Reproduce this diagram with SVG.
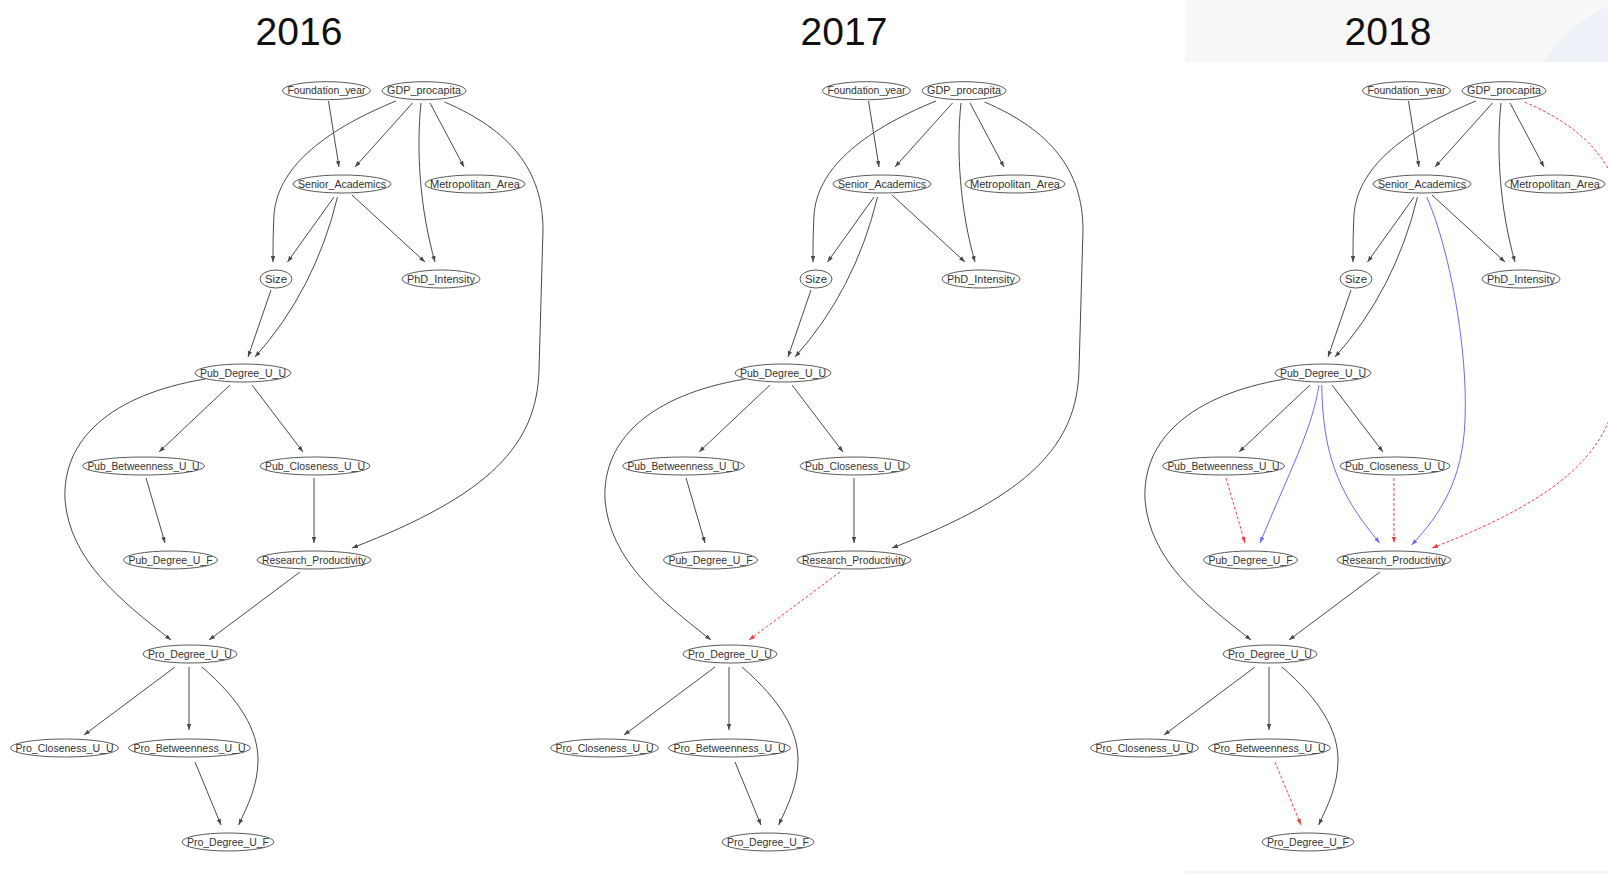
<svg xmlns="http://www.w3.org/2000/svg" xmlns:xlink="http://www.w3.org/1999/xlink" width="1608" height="874" viewBox="0 0 1608 874">
  <style>
    .title { font-family: "Liberation Sans", Arial, sans-serif; font-size: 39px; fill: #111; text-anchor: middle; }
    .node ellipse { fill: #fff; stroke: #5a5a5a; stroke-width: 1; }
    .node text { font-family: "Liberation Sans", Arial, sans-serif; font-size: 10px; fill: #333; text-anchor: middle; }
    .k { fill: none; stroke: #4a4a4a; stroke-width: 1; marker-end: url(#ak); }
    .r { fill: none; stroke: #f04040; stroke-width: 1; stroke-dasharray: 3 2; marker-end: url(#ar); }
    .b { fill: none; stroke: #6a6aff; stroke-width: 1; marker-end: url(#ab); }
  </style>
  <defs>
    <marker id="ak" viewBox="0 0 6 6" refX="6" refY="3" markerWidth="6" markerHeight="6" markerUnits="userSpaceOnUse" orient="auto">
      <path d="M0,0.8 L6,3 L0,5.2 Z" fill="#4a4a4a"/>
    </marker>
    <marker id="ar" viewBox="0 0 6 6" refX="6" refY="3" markerWidth="6" markerHeight="6" markerUnits="userSpaceOnUse" orient="auto">
      <path d="M0,0.8 L6,3 L0,5.2 Z" fill="#f04040"/>
    </marker>
    <marker id="ab" viewBox="0 0 6 6" refX="6" refY="3" markerWidth="6" markerHeight="6" markerUnits="userSpaceOnUse" orient="auto">
      <path d="M0,0.8 L6,3 L0,5.2 Z" fill="#6a6aff"/>
    </marker>
    <!-- shared edge geometry, panel-relative -->
    <path id="e-fy-sa" d="M328.5,101 L339,167"/>
    <path id="e-gdp-sa" d="M412.5,103 L355,167"/>
    <path id="e-gdp-size" d="M396,101 C320,132 277,170 274,215 C273,235 273,250 273,262"/>
    <path id="e-gdp-phd" d="M421,103 C416,150 420,210 435,262"/>
    <path id="e-gdp-metro" d="M430,103 L464,167"/>
    <path id="e-gdp-rp" d="M444.6,102 C510,130 543,170 543,230 L541,300 L539,370 C537,445 490,495 352,548"/>
    <path id="e-sa-size" d="M334,197 L287.5,262"/>
    <path id="e-sa-pduu" d="M337.5,197 Q315,290 255,357"/>
    <path id="e-sa-phd" d="M352,195 L425,262"/>
    <path id="e-size-pduu" d="M271,290 L248,357"/>
    <path id="e-pduu-pb" d="M230,385 L159,452"/>
    <path id="e-pduu-pc" d="M252,385 L303,452"/>
    <path id="e-pduu-rduu" d="M205,379 C110,395 62,440 65,500 C70,560 120,600 171,640"/>
    <path id="e-pb-pduf" d="M146,478 L165,543"/>
    <path id="e-pc-rp" d="M314,478 L314,543"/>
    <path id="e-rp-rduu" d="M300,572 L209,640"/>
    <path id="e-rduu-rc" d="M175,667 L84,735"/>
    <path id="e-rduu-rb" d="M189,667 L189,730"/>
    <path id="e-rduu-rduf" d="M202,667 C240,700 258,730 258,760 C258,785 248,805 238.6,825"/>
    <path id="e-rb-rduf" d="M195,762 L221,825"/>
    <path id="e-sa-rp" d="M346.8,197 C370,250 388,350 385,420 C383,480 360,515 331.6,545"/>
    <path id="e-pduu-pduf" d="M239,385 C232,430 210,470 180,543"/>
    <path id="e-pduu-rp" d="M241.7,385 C243,450 255,490 299.7,543"/>
  </defs>

  <rect width="1608" height="874" fill="#fff"/>
  <!-- slide backdrop behind the third title -->
  <rect x="1185" y="0" width="423" height="62" fill="#f8f8f8"/>
  <path d="M1543,62 C1560,36 1584,16 1608,6 L1608,62 Z" fill="#eef2f8"/>
  <rect x="1185" y="871" width="423" height="3" fill="#f6f6f6"/>

  <text class="title" x="299" y="45">2016</text>
  <text class="title" x="844" y="45">2017</text>
  <text class="title" x="1388" y="45">2018</text>

  <g id="connectors">
    <g id="edges-2016">
      <use xlink:href="#e-fy-sa" class="k"/>
      <use xlink:href="#e-gdp-sa" class="k"/>
      <use xlink:href="#e-gdp-size" class="k"/>
      <use xlink:href="#e-gdp-phd" class="k"/>
      <use xlink:href="#e-gdp-metro" class="k"/>
      <use xlink:href="#e-gdp-rp" class="k"/>
      <use xlink:href="#e-sa-size" class="k"/>
      <use xlink:href="#e-sa-pduu" class="k"/>
      <use xlink:href="#e-sa-phd" class="k"/>
      <use xlink:href="#e-size-pduu" class="k"/>
      <use xlink:href="#e-pduu-pb" class="k"/>
      <use xlink:href="#e-pduu-pc" class="k"/>
      <use xlink:href="#e-pduu-rduu" class="k"/>
      <use xlink:href="#e-pb-pduf" class="k"/>
      <use xlink:href="#e-pc-rp" class="k"/>
      <use xlink:href="#e-rp-rduu" class="k"/>
      <use xlink:href="#e-rduu-rc" class="k"/>
      <use xlink:href="#e-rduu-rb" class="k"/>
      <use xlink:href="#e-rduu-rduf" class="k"/>
      <use xlink:href="#e-rb-rduf" class="k"/>
    </g>
    <g id="edges-2017" transform="translate(540,0)">
      <use xlink:href="#e-fy-sa" class="k"/>
      <use xlink:href="#e-gdp-sa" class="k"/>
      <use xlink:href="#e-gdp-size" class="k"/>
      <use xlink:href="#e-gdp-phd" class="k"/>
      <use xlink:href="#e-gdp-metro" class="k"/>
      <use xlink:href="#e-gdp-rp" class="k"/>
      <use xlink:href="#e-sa-size" class="k"/>
      <use xlink:href="#e-sa-pduu" class="k"/>
      <use xlink:href="#e-sa-phd" class="k"/>
      <use xlink:href="#e-size-pduu" class="k"/>
      <use xlink:href="#e-pduu-pb" class="k"/>
      <use xlink:href="#e-pduu-pc" class="k"/>
      <use xlink:href="#e-pduu-rduu" class="k"/>
      <use xlink:href="#e-pb-pduf" class="k"/>
      <use xlink:href="#e-pc-rp" class="k"/>
      <use xlink:href="#e-rp-rduu" class="r"/>
      <use xlink:href="#e-rduu-rc" class="k"/>
      <use xlink:href="#e-rduu-rb" class="k"/>
      <use xlink:href="#e-rduu-rduf" class="k"/>
      <use xlink:href="#e-rb-rduf" class="k"/>
    </g>
    <g id="edges-2018" transform="translate(1080,0)">
      <use xlink:href="#e-fy-sa" class="k"/>
      <use xlink:href="#e-gdp-sa" class="k"/>
      <use xlink:href="#e-gdp-size" class="k"/>
      <use xlink:href="#e-gdp-phd" class="k"/>
      <use xlink:href="#e-gdp-metro" class="k"/>
      <use xlink:href="#e-gdp-rp" class="r"/>
      <use xlink:href="#e-sa-size" class="k"/>
      <use xlink:href="#e-sa-pduu" class="k"/>
      <use xlink:href="#e-sa-phd" class="k"/>
      <use xlink:href="#e-sa-rp" class="b"/>
      <use xlink:href="#e-size-pduu" class="k"/>
      <use xlink:href="#e-pduu-pb" class="k"/>
      <use xlink:href="#e-pduu-pc" class="k"/>
      <use xlink:href="#e-pduu-pduf" class="b"/>
      <use xlink:href="#e-pduu-rp" class="b"/>
      <use xlink:href="#e-pduu-rduu" class="k"/>
      <use xlink:href="#e-pb-pduf" class="r"/>
      <use xlink:href="#e-pc-rp" class="r"/>
      <use xlink:href="#e-rp-rduu" class="k"/>
      <use xlink:href="#e-rduu-rc" class="k"/>
      <use xlink:href="#e-rduu-rb" class="k"/>
      <use xlink:href="#e-rduu-rduf" class="k"/>
      <use xlink:href="#e-rb-rduf" class="r"/>
    </g>
  </g>

  <g id="nodes-2016">
    <g id="n16-foundation-year" class="node"><ellipse cx="326.4" cy="90.7" rx="44" ry="9"/><text x="326.4" y="94.2" textLength="78" lengthAdjust="spacingAndGlyphs">Foundation_year</text></g>
    <g id="n16-gdp-procapita" class="node"><ellipse cx="424" cy="90.7" rx="42" ry="9"/><text x="424" y="94.2" textLength="74" lengthAdjust="spacingAndGlyphs">GDP_procapita</text></g>
    <g id="n16-senior-academics" class="node"><ellipse cx="342" cy="184" rx="49" ry="9"/><text x="342" y="187.5" textLength="88" lengthAdjust="spacingAndGlyphs">Senior_Academics</text></g>
    <g id="n16-metropolitan-area" class="node"><ellipse cx="475" cy="184" rx="50" ry="9"/><text x="475" y="187.5" textLength="90" lengthAdjust="spacingAndGlyphs">Metropolitan_Area</text></g>
    <g id="n16-size" class="node"><ellipse cx="276" cy="279" rx="16" ry="9"/><text x="276" y="282.5" textLength="22" lengthAdjust="spacingAndGlyphs">Size</text></g>
    <g id="n16-phd-intensity" class="node"><ellipse cx="441" cy="279" rx="39" ry="9"/><text x="441" y="282.5" textLength="68" lengthAdjust="spacingAndGlyphs">PhD_Intensity</text></g>
    <g id="n16-pub-degree-uu" class="node"><ellipse cx="243" cy="373" rx="48" ry="9"/><text x="243" y="376.5" textLength="86" lengthAdjust="spacingAndGlyphs">Pub_Degree_U_U</text></g>
    <g id="n16-pub-betweenness-uu" class="node"><ellipse cx="143.5" cy="466" rx="61" ry="9"/><text x="143.5" y="469.5" textLength="112" lengthAdjust="spacingAndGlyphs">Pub_Betweenness_U_U</text></g>
    <g id="n16-pub-closeness-uu" class="node"><ellipse cx="315" cy="466" rx="55" ry="9"/><text x="315" y="469.5" textLength="100" lengthAdjust="spacingAndGlyphs">Pub_Closeness_U_U</text></g>
    <g id="n16-pub-degree-uf" class="node"><ellipse cx="170.5" cy="560" rx="47" ry="9"/><text x="170.5" y="563.5" textLength="84" lengthAdjust="spacingAndGlyphs">Pub_Degree_U_F</text></g>
    <g id="n16-research-productivity" class="node"><ellipse cx="314" cy="560" rx="57" ry="9"/><text x="314" y="563.5" textLength="104" lengthAdjust="spacingAndGlyphs">Research_Productivity</text></g>
    <g id="n16-pro-degree-uu" class="node"><ellipse cx="190" cy="654" rx="47" ry="9"/><text x="190" y="657.5" textLength="84" lengthAdjust="spacingAndGlyphs">Pro_Degree_U_U</text></g>
    <g id="n16-pro-closeness-uu" class="node"><ellipse cx="64.5" cy="748" rx="54" ry="9"/><text x="64.5" y="751.5" textLength="98" lengthAdjust="spacingAndGlyphs">Pro_Closeness_U_U</text></g>
    <g id="n16-pro-betweenness-uu" class="node"><ellipse cx="189.5" cy="748" rx="61" ry="9"/><text x="189.5" y="751.5" textLength="112" lengthAdjust="spacingAndGlyphs">Pro_Betweenness_U_U</text></g>
    <g id="n16-pro-degree-uf" class="node"><ellipse cx="228" cy="842" rx="46" ry="9"/><text x="228" y="845.5" textLength="82" lengthAdjust="spacingAndGlyphs">Pro_Degree_U_F</text></g>
  </g>

  <g id="nodes-2017" transform="translate(540,0)">
    <g id="n17-foundation-year" class="node"><ellipse cx="326.4" cy="90.7" rx="44" ry="9"/><text x="326.4" y="94.2" textLength="78" lengthAdjust="spacingAndGlyphs">Foundation_year</text></g>
    <g id="n17-gdp-procapita" class="node"><ellipse cx="424" cy="90.7" rx="42" ry="9"/><text x="424" y="94.2" textLength="74" lengthAdjust="spacingAndGlyphs">GDP_procapita</text></g>
    <g id="n17-senior-academics" class="node"><ellipse cx="342" cy="184" rx="49" ry="9"/><text x="342" y="187.5" textLength="88" lengthAdjust="spacingAndGlyphs">Senior_Academics</text></g>
    <g id="n17-metropolitan-area" class="node"><ellipse cx="475" cy="184" rx="50" ry="9"/><text x="475" y="187.5" textLength="90" lengthAdjust="spacingAndGlyphs">Metropolitan_Area</text></g>
    <g id="n17-size" class="node"><ellipse cx="276" cy="279" rx="16" ry="9"/><text x="276" y="282.5" textLength="22" lengthAdjust="spacingAndGlyphs">Size</text></g>
    <g id="n17-phd-intensity" class="node"><ellipse cx="441" cy="279" rx="39" ry="9"/><text x="441" y="282.5" textLength="68" lengthAdjust="spacingAndGlyphs">PhD_Intensity</text></g>
    <g id="n17-pub-degree-uu" class="node"><ellipse cx="243" cy="373" rx="48" ry="9"/><text x="243" y="376.5" textLength="86" lengthAdjust="spacingAndGlyphs">Pub_Degree_U_U</text></g>
    <g id="n17-pub-betweenness-uu" class="node"><ellipse cx="143.5" cy="466" rx="61" ry="9"/><text x="143.5" y="469.5" textLength="112" lengthAdjust="spacingAndGlyphs">Pub_Betweenness_U_U</text></g>
    <g id="n17-pub-closeness-uu" class="node"><ellipse cx="315" cy="466" rx="55" ry="9"/><text x="315" y="469.5" textLength="100" lengthAdjust="spacingAndGlyphs">Pub_Closeness_U_U</text></g>
    <g id="n17-pub-degree-uf" class="node"><ellipse cx="170.5" cy="560" rx="47" ry="9"/><text x="170.5" y="563.5" textLength="84" lengthAdjust="spacingAndGlyphs">Pub_Degree_U_F</text></g>
    <g id="n17-research-productivity" class="node"><ellipse cx="314" cy="560" rx="57" ry="9"/><text x="314" y="563.5" textLength="104" lengthAdjust="spacingAndGlyphs">Research_Productivity</text></g>
    <g id="n17-pro-degree-uu" class="node"><ellipse cx="190" cy="654" rx="47" ry="9"/><text x="190" y="657.5" textLength="84" lengthAdjust="spacingAndGlyphs">Pro_Degree_U_U</text></g>
    <g id="n17-pro-closeness-uu" class="node"><ellipse cx="64.5" cy="748" rx="54" ry="9"/><text x="64.5" y="751.5" textLength="98" lengthAdjust="spacingAndGlyphs">Pro_Closeness_U_U</text></g>
    <g id="n17-pro-betweenness-uu" class="node"><ellipse cx="189.5" cy="748" rx="61" ry="9"/><text x="189.5" y="751.5" textLength="112" lengthAdjust="spacingAndGlyphs">Pro_Betweenness_U_U</text></g>
    <g id="n17-pro-degree-uf" class="node"><ellipse cx="228" cy="842" rx="46" ry="9"/><text x="228" y="845.5" textLength="82" lengthAdjust="spacingAndGlyphs">Pro_Degree_U_F</text></g>
  </g>

  <g id="nodes-2018" transform="translate(1080,0)">
    <g id="n18-foundation-year" class="node"><ellipse cx="326.4" cy="90.7" rx="44" ry="9"/><text x="326.4" y="94.2" textLength="78" lengthAdjust="spacingAndGlyphs">Foundation_year</text></g>
    <g id="n18-gdp-procapita" class="node"><ellipse cx="424" cy="90.7" rx="42" ry="9"/><text x="424" y="94.2" textLength="74" lengthAdjust="spacingAndGlyphs">GDP_procapita</text></g>
    <g id="n18-senior-academics" class="node"><ellipse cx="342" cy="184" rx="49" ry="9"/><text x="342" y="187.5" textLength="88" lengthAdjust="spacingAndGlyphs">Senior_Academics</text></g>
    <g id="n18-metropolitan-area" class="node"><ellipse cx="475" cy="184" rx="50" ry="9"/><text x="475" y="187.5" textLength="90" lengthAdjust="spacingAndGlyphs">Metropolitan_Area</text></g>
    <g id="n18-size" class="node"><ellipse cx="276" cy="279" rx="16" ry="9"/><text x="276" y="282.5" textLength="22" lengthAdjust="spacingAndGlyphs">Size</text></g>
    <g id="n18-phd-intensity" class="node"><ellipse cx="441" cy="279" rx="39" ry="9"/><text x="441" y="282.5" textLength="68" lengthAdjust="spacingAndGlyphs">PhD_Intensity</text></g>
    <g id="n18-pub-degree-uu" class="node"><ellipse cx="243" cy="373" rx="48" ry="9"/><text x="243" y="376.5" textLength="86" lengthAdjust="spacingAndGlyphs">Pub_Degree_U_U</text></g>
    <g id="n18-pub-betweenness-uu" class="node"><ellipse cx="143.5" cy="466" rx="61" ry="9"/><text x="143.5" y="469.5" textLength="112" lengthAdjust="spacingAndGlyphs">Pub_Betweenness_U_U</text></g>
    <g id="n18-pub-closeness-uu" class="node"><ellipse cx="315" cy="466" rx="55" ry="9"/><text x="315" y="469.5" textLength="100" lengthAdjust="spacingAndGlyphs">Pub_Closeness_U_U</text></g>
    <g id="n18-pub-degree-uf" class="node"><ellipse cx="170.5" cy="560" rx="47" ry="9"/><text x="170.5" y="563.5" textLength="84" lengthAdjust="spacingAndGlyphs">Pub_Degree_U_F</text></g>
    <g id="n18-research-productivity" class="node"><ellipse cx="314" cy="560" rx="57" ry="9"/><text x="314" y="563.5" textLength="104" lengthAdjust="spacingAndGlyphs">Research_Productivity</text></g>
    <g id="n18-pro-degree-uu" class="node"><ellipse cx="190" cy="654" rx="47" ry="9"/><text x="190" y="657.5" textLength="84" lengthAdjust="spacingAndGlyphs">Pro_Degree_U_U</text></g>
    <g id="n18-pro-closeness-uu" class="node"><ellipse cx="64.5" cy="748" rx="54" ry="9"/><text x="64.5" y="751.5" textLength="98" lengthAdjust="spacingAndGlyphs">Pro_Closeness_U_U</text></g>
    <g id="n18-pro-betweenness-uu" class="node"><ellipse cx="189.5" cy="748" rx="61" ry="9"/><text x="189.5" y="751.5" textLength="112" lengthAdjust="spacingAndGlyphs">Pro_Betweenness_U_U</text></g>
    <g id="n18-pro-degree-uf" class="node"><ellipse cx="228" cy="842" rx="46" ry="9"/><text x="228" y="845.5" textLength="82" lengthAdjust="spacingAndGlyphs">Pro_Degree_U_F</text></g>
  </g>
</svg>
